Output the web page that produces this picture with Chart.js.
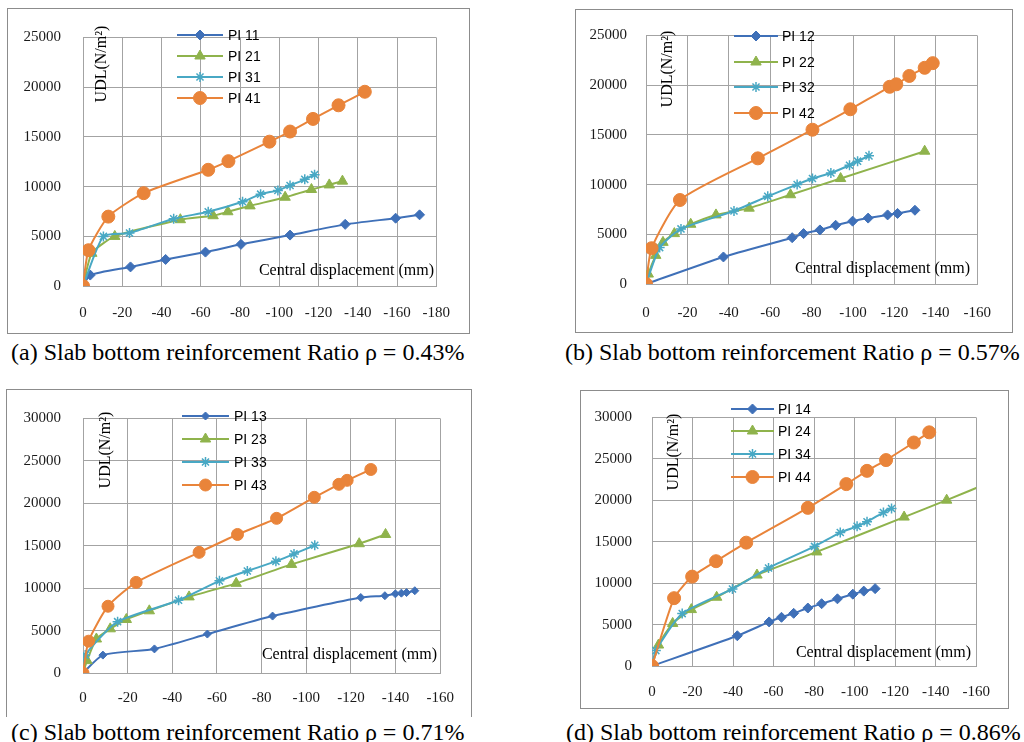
<!DOCTYPE html>
<html>
<head>
<meta charset="utf-8">
<script src="https://cdn.jsdelivr.net/npm/chart.js@4.4.1/dist/chart.umd.min.js"></script>
<style>
  body { margin: 0; background: #fff; width: 1024px; height: 742px; overflow: hidden; position: relative; }
  canvas { position: absolute; }
  .frame { position: absolute; border: 1.5px solid #8c8c8c; box-sizing: border-box; pointer-events: none; }
  .cap { position: absolute; font: 24px "Liberation Serif", "Times New Roman", serif; line-height: 1; white-space: nowrap; color: #000; }
</style>
</head>
<body>
<div class="cap" style="left:11px; top:340px">(a) Slab bottom reinforcement Ratio ρ = 0.43%</div>
<div class="cap" style="left:565px; top:340px">(b) Slab bottom reinforcement Ratio ρ = 0.57%</div>
<div class="cap" style="left:11px; top:720px">(c) Slab bottom reinforcement Ratio ρ = 0.71%</div>
<div class="cap" style="left:566px; top:720px">(d) Slab bottom reinforcement Ratio ρ = 0.86%</div>
<script>
const COLORS = { blue: "#3f70b8", green: "#8fb34c", teal: "#48a8c4", orange: "#e9843a" };
const STYLES = { blue: "rectRot", green: "triangle", teal: "star", orange: "circle" };

const X_TICK_STEP = 20;
const Y_TICK_STEP = 5000;
const Y_TITLE = "UDL(N/m²)";
const X_TITLE = "Central displacement (mm)";

// (a) rho = 0.43%
const PI11_X = [0, -3.7, -24.2, -42.1, -62.4, -80.5, -105.5, -133.6, -159.3, -171.5];
const PI11_Y = [0, 1100, 1920, 2670, 3410, 4190, 5120, 6200, 6820, 7160];
const PI21_X = [0, -4.5, -16.2, -49.6, -66.3, -73.8, -85.1, -103, -116.4, -125.5, -132.2];
const PI21_Y = [0, 3290, 4990, 6670, 7070, 7470, 8060, 8930, 9710, 10170, 10550];
const PI31_X = [0, -10.4, -23.7, -46.2, -63.8, -81.3, -90.5, -99.3, -105.5, -113, -118];
const PI31_Y = [0, 4990, 5330, 6760, 7470, 8470, 9240, 9620, 10110, 10730, 11200];
const PI41_X = [0, -2.8, -12.9, -30.9, -63.8, -74.1, -95, -105.5, -117.2, -130.2, -143.6];
const PI41_Y = [0, 3600, 6980, 9340, 11690, 12560, 14520, 15540, 16810, 18180, 19540];

// (b) rho = 0.57%
const PI12_X = [0, -37.4, -70.6, -76.1, -84, -91.6, -99.8, -107.3, -116.7, -121.5, -129.9];
const PI12_Y = [0, 2720, 4660, 5070, 5440, 5910, 6320, 6630, 6950, 7100, 7420];
const PI22_X = [0, -1.1, -4.7, -8.2, -13.7, -21.6, -33.8, -49.8, -69.8, -94, -134.6];
const PI22_Y = [0, 1000, 2880, 4190, 5070, 6010, 6950, 7630, 8980, 10610, 13360];
const PI32_X = [0, -6.6, -16.9, -42.5, -58.8, -73, -80.4, -89.3, -98.3, -102.2, -107.7];
const PI32_Y = [0, 3660, 5540, 7350, 8820, 10010, 10610, 11170, 11950, 12360, 12890];
const PI42_X = [0, -2.7, -16.4, -54, -80.4, -98.7, -117.7, -120.9, -127.2, -134.6, -138.5];
const PI42_Y = [0, 3600, 8450, 12640, 15520, 17580, 19840, 20090, 20930, 21750, 22220];

// (c) rho = 0.71%
const PI13_X = [0, -8.9, -32, -55.7, -84.9, -124.4, -135.2, -139.9, -142.6, -144.9, -148.6];
const PI13_Y = [0, 2110, 2840, 4590, 6710, 8900, 9110, 9330, 9410, 9480, 9700];
const PI23_X = [0, -1.8, -6, -12.2, -19.4, -29.7, -47.5, -68.6, -93.4, -123.7, -135.5];
const PI23_Y = [0, 1460, 4010, 5210, 6310, 7330, 8970, 10570, 12800, 15240, 16330];
const PI33_X = [0, -1, -15.5, -42.8, -61.1, -73.6, -86.4, -94.5, -103.8];
const PI33_Y = [0, 2110, 6050, 8570, 10860, 12030, 13160, 14040, 15060];
const PI43_X = [0, -2.5, -11.2, -23.8, -52, -69.2, -86.7, -103.6, -114.6, -118.3, -128.9];
const PI43_Y = [0, 3750, 7870, 10680, 14220, 16330, 18230, 20710, 22240, 22710, 23990];

// (d) rho = 0.86%
const PI14_X = [0, -42.1, -57.8, -63.9, -69.9, -76.9, -83.7, -91.5, -99.1, -104.5, -110.1];
const PI14_Y = [0, 3650, 5320, 5880, 6360, 7000, 7520, 8110, 8670, 9040, 9340];
const PI24_X = [0, -3.2, -10.2, -19.4, -31.9, -51.8, -81.3, -124.4, -145.4, -168];
const PI24_Y = [0, 2530, 5140, 6810, 8300, 10980, 13770, 17980, 20020, 22300];
const PI34_X = [0, -1.9, -14.9, -39.7, -57.5, -80.2, -92.9, -101.2, -106.1, -114.2, -118.2];
const PI34_Y = [0, 1860, 6330, 9300, 11830, 14440, 16110, 16860, 17420, 18530, 19020];
const PI44_X = [0, -10.9, -19.8, -31.6, -46.5, -76.9, -95.9, -106.1, -115.5, -129.2, -136.8];
const PI44_Y = [0, 8190, 10790, 12650, 14890, 19090, 21960, 23560, 24860, 26980, 28210];

const PANELS = [
  {
    id: "a", frame: [7, 8, 470, 334], plot: [83, 17, 442, 286], xMin: -180, yMax: 25000, xPad: 20, yPad: 22,
    series: [["PI 11", PI11_X, PI11_Y, "blue"], ["PI 21", PI21_X, PI21_Y, "green"], ["PI 31", PI31_X, PI31_Y, "teal"], ["PI 41", PI41_X, PI41_Y, "orange"]],
    radius: { blue: 5, green: 6, teal: 5, orange: 6.5 },
    legend: { x0: 177, x1: 223, tx: 228, ys: [35, 56, 77, 98] }, udl: [102, 64], disp: [434, 271],
  },
  {
    id: "b", frame: [575, 9, 1013, 333], plot: [646, 18, 984, 284], xMin: -160, yMax: 25000, xPad: 22, yPad: 19,
    series: [["PI 12", PI12_X, PI12_Y, "blue"], ["PI 22", PI22_X, PI22_Y, "green"], ["PI 32", PI32_X, PI32_Y, "teal"], ["PI 42", PI42_X, PI42_Y, "orange"]],
    radius: { blue: 5, green: 6, teal: 5, orange: 6.5 },
    legend: { x0: 734, x1: 778, tx: 782, ys: [36, 62, 87, 113] }, udl: [668, 69], disp: [970, 269],
  },
  {
    id: "c", frame: [6, 389, 472, 717], plot: [83, 398, 441, 673], xMin: -160, yMax: 30000, xPad: 18, yPad: 22, openBottom: true,
    series: [["PI 13", PI13_X, PI13_Y, "blue"], ["PI 23", PI23_X, PI23_Y, "green"], ["PI 33", PI33_X, PI33_Y, "teal"], ["PI 43", PI43_X, PI43_Y, "orange"]],
    radius: { blue: 4, green: 6, teal: 5, orange: 6 },
    legend: { x0: 182, x1: 229, tx: 234, ys: [416, 439, 462, 485] }, udl: [106, 450], disp: [437, 655],
  },
  {
    id: "d", frame: [580, 390, 1009, 709], plot: [652, 397, 981, 666], xMin: -160, yMax: 30000, xPad: 19, yPad: 20,
    series: [["PI 14", PI14_X, PI14_Y, "blue"], ["PI 24", PI24_X, PI24_Y, "green"], ["PI 34", PI34_X, PI34_Y, "teal"], ["PI 44", PI44_X, PI44_Y, "orange"]],
    radius: { blue: 5, green: 6, teal: 5, orange: 6.5 },
    legend: { x0: 731, x1: 774, tx: 778, ys: [409, 431, 454, 477] }, udl: [674, 452], disp: [971, 653],
  },
];

const GRID = "#a3a3a3";
const TICK_FONT = { family: "'Liberation Serif', 'Times New Roman', serif", size: 15, lineHeight: 1 };

function drawMarker(ctx, style, x, y, r, color) {
  ctx.save();
  ctx.fillStyle = color;
  ctx.strokeStyle = color;
  ctx.lineWidth = style === "star" ? 1.5 : 1;
  if (Chart.helpers && Chart.helpers.drawPoint) {
    Chart.helpers.drawPoint(ctx, { pointStyle: style, radius: r, rotation: 0, borderWidth: ctx.lineWidth }, x, y);
  } else {
    ctx.beginPath();
    ctx.arc(x, y, r, 0, Math.PI * 2);
    ctx.fill();
  }
  ctx.restore();
}

function overlayPlugin(panel) {
  return {
    id: "overlay_" + panel.id,
    afterDatasetsDraw(chart) {
      const ctx = chart.ctx;
      const ox = panel.frame[0];
      const oy = panel.frame[1];
      const lg = panel.legend;
      ctx.save();
      panel.series.forEach(([label, , , color], i) => {
        const y = lg.ys[i] - oy;
        ctx.strokeStyle = COLORS[color];
        ctx.lineWidth = 2;
        ctx.beginPath();
        ctx.moveTo(lg.x0 - ox, y);
        ctx.lineTo(lg.x1 - ox, y);
        ctx.stroke();
        drawMarker(ctx, STYLES[color], (lg.x0 + lg.x1) / 2 - ox, y, panel.radius[color], COLORS[color]);
        ctx.fillStyle = "#000";
        ctx.font = "14px 'Liberation Sans', Arial, sans-serif";
        ctx.textAlign = "left";
        ctx.textBaseline = "middle";
        ctx.fillText(label, lg.tx - ox, y + 1);
      });

      ctx.font = "16px 'Liberation Serif', 'Times New Roman', serif";
      ctx.fillStyle = "#000";
      ctx.save();
      ctx.translate(panel.udl[0] - ox, panel.udl[1] - oy);
      ctx.rotate(-Math.PI / 2);
      ctx.textAlign = "center";
      ctx.textBaseline = "middle";
      ctx.fillText(Y_TITLE, 0, 0);
      ctx.restore();

      ctx.textAlign = "right";
      ctx.textBaseline = "middle";
      ctx.fillText(X_TITLE, panel.disp[0] - ox, panel.disp[1] - oy);
      ctx.restore();
    },
  };
}

function buildPanel(panel) {
  const [fl, ft, fr, fb] = panel.frame;
  const [pl, pt, pr, pb] = panel.plot;
  const w = fr - fl;
  const h = fb - ft;

  const canvas = document.createElement("canvas");
  canvas.width = w;
  canvas.height = h;
  canvas.style.left = fl + "px";
  canvas.style.top = ft + "px";
  canvas.style.width = w + "px";
  canvas.style.height = h + "px";
  document.body.appendChild(canvas);

  const frame = document.createElement("div");
  frame.className = "frame";
  Object.assign(frame.style, { left: fl + "px", top: ft + "px", width: w + "px", height: h + "px" });
  if (panel.openBottom) frame.style.borderBottom = "none";
  document.body.appendChild(frame);

  const datasets = panel.series.map(([label, xs, ys, color], i) => ({
    label,
    data: xs.map((x, k) => ({ x, y: ys[k] })),
    borderColor: COLORS[color],
    backgroundColor: COLORS[color],
    borderWidth: 2,
    pointStyle: STYLES[color],
    pointRadius: panel.radius[color],
    pointBorderWidth: color === "teal" ? 1.5 : 1,
    tension: 0.2,
    fill: false,
    order: 3 - i,
  }));

  new Chart(canvas, {
    type: "line",
    data: { datasets },
    options: {
      responsive: false,
      animation: false,
      devicePixelRatio: 1,
      layout: { padding: { left: 0, top: pt - ft, right: fr - pr, bottom: 0 } },
      plugins: { legend: { display: false }, tooltip: { enabled: false } },
      scales: {
        x: {
          type: "linear",
          reverse: true,
          min: panel.xMin,
          max: 0,
          ticks: { stepSize: X_TICK_STEP, padding: panel.xPad, autoSkip: false, maxRotation: 0, color: "#1a1a1a", font: TICK_FONT, callback: (v) => String(v) },
          grid: { color: GRID, drawTicks: false },
          border: { color: GRID },
          afterFit: (scale) => { scale.height = fb - pb; },
        },
        y: {
          type: "linear",
          min: 0,
          max: panel.yMax,
          ticks: { stepSize: Y_TICK_STEP, padding: panel.yPad, color: "#1a1a1a", font: TICK_FONT, callback: (v) => String(v) },
          grid: { color: GRID, drawTicks: false },
          border: { color: GRID },
          afterFit: (scale) => { scale.width = pl - fl; },
        },
      },
    },
    plugins: [overlayPlugin(panel)],
  });
}

PANELS.forEach(buildPanel);
</script>
</body>
</html>
